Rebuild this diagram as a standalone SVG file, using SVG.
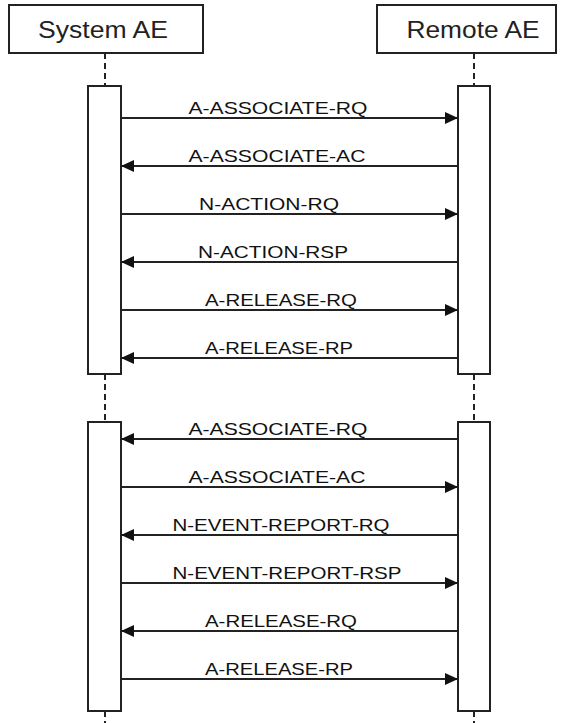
<svg xmlns="http://www.w3.org/2000/svg" width="565" height="723" viewBox="0 0 565 723">
<defs>
<style>
.hdr{fill:#fff;stroke:#222;stroke-width:2}
.htxt{font-family:"Liberation Sans",Arial,sans-serif;font-size:23px;fill:#222;text-anchor:middle}
.life{stroke:#222;stroke-width:2;stroke-dasharray:6,4;fill:none}
.act{fill:#fff;stroke:#222;stroke-width:2}
.msg{stroke:#222;stroke-width:1.8;fill:none;marker-end:url(#ah)}
.lbl{font-family:"Liberation Sans",Arial,sans-serif;font-size:17px;fill:#111;text-anchor:middle}
</style>
<marker id="ah" markerUnits="userSpaceOnUse" markerWidth="14" markerHeight="12" refX="13" refY="6" orient="auto">
<path d="M0,0 L13,6 L0,12 z" fill="#111"/>
</marker>
</defs>
<rect width="565" height="723" fill="#fff"/>
<g id="lifelines">
<path class="life" d="M105,53 V86 M105,374 V422 M105,711 V723"/>
<path class="life" d="M474,53 V86 M474,374 V422 M474,711 V723"/>
</g>
<g id="system-ae">
<rect class="hdr" x="9" y="5" width="194" height="48"/>
<text class="htxt" x="103" y="38" textLength="130" lengthAdjust="spacingAndGlyphs">System AE</text>
</g>
<g id="remote-ae">
<rect class="hdr" x="377" y="5" width="179" height="48"/>
<text class="htxt" x="473" y="38" textLength="133" lengthAdjust="spacingAndGlyphs">Remote AE</text>
</g>
<g id="system-act-1"><rect class="act" x="88" y="86" width="33" height="288"/></g>
<g id="remote-act-1"><rect class="act" x="458" y="86" width="32" height="288"/></g>
<g id="system-act-2"><rect class="act" x="88" y="422" width="33" height="289"/></g>
<g id="remote-act-2"><rect class="act" x="458" y="422" width="32" height="289"/></g>
<g id="connectors">
<line class="msg" x1="121" y1="118" x2="458" y2="118"/>
<line class="msg" x1="458" y1="166" x2="121" y2="166"/>
<line class="msg" x1="121" y1="214" x2="458" y2="214"/>
<line class="msg" x1="458" y1="262" x2="121" y2="262"/>
<line class="msg" x1="121" y1="310" x2="458" y2="310"/>
<line class="msg" x1="458" y1="358" x2="121" y2="358"/>
<line class="msg" x1="458" y1="439" x2="121" y2="439"/>
<line class="msg" x1="121" y1="487" x2="458" y2="487"/>
<line class="msg" x1="458" y1="535" x2="121" y2="535"/>
<line class="msg" x1="121" y1="583" x2="458" y2="583"/>
<line class="msg" x1="458" y1="631" x2="121" y2="631"/>
<line class="msg" x1="121" y1="679" x2="458" y2="679"/>
</g>
<g id="labels">
<text class="lbl" x="278" y="114" textLength="179" lengthAdjust="spacingAndGlyphs">A-ASSOCIATE-RQ</text>
<text class="lbl" x="277" y="162" textLength="177" lengthAdjust="spacingAndGlyphs">A-ASSOCIATE-AC</text>
<text class="lbl" x="269" y="210" textLength="140" lengthAdjust="spacingAndGlyphs">N-ACTION-RQ</text>
<text class="lbl" x="273" y="258" textLength="150" lengthAdjust="spacingAndGlyphs">N-ACTION-RSP</text>
<text class="lbl" x="281" y="306" textLength="152" lengthAdjust="spacingAndGlyphs">A-RELEASE-RQ</text>
<text class="lbl" x="279" y="354" textLength="148" lengthAdjust="spacingAndGlyphs">A-RELEASE-RP</text>
<text class="lbl" x="278" y="435" textLength="179" lengthAdjust="spacingAndGlyphs">A-ASSOCIATE-RQ</text>
<text class="lbl" x="277" y="483" textLength="177" lengthAdjust="spacingAndGlyphs">A-ASSOCIATE-AC</text>
<text class="lbl" x="281" y="531" textLength="217" lengthAdjust="spacingAndGlyphs">N-EVENT-REPORT-RQ</text>
<text class="lbl" x="287" y="579" textLength="229" lengthAdjust="spacingAndGlyphs">N-EVENT-REPORT-RSP</text>
<text class="lbl" x="281" y="627" textLength="152" lengthAdjust="spacingAndGlyphs">A-RELEASE-RQ</text>
<text class="lbl" x="279" y="675" textLength="148" lengthAdjust="spacingAndGlyphs">A-RELEASE-RP</text>
</g>
</svg>
